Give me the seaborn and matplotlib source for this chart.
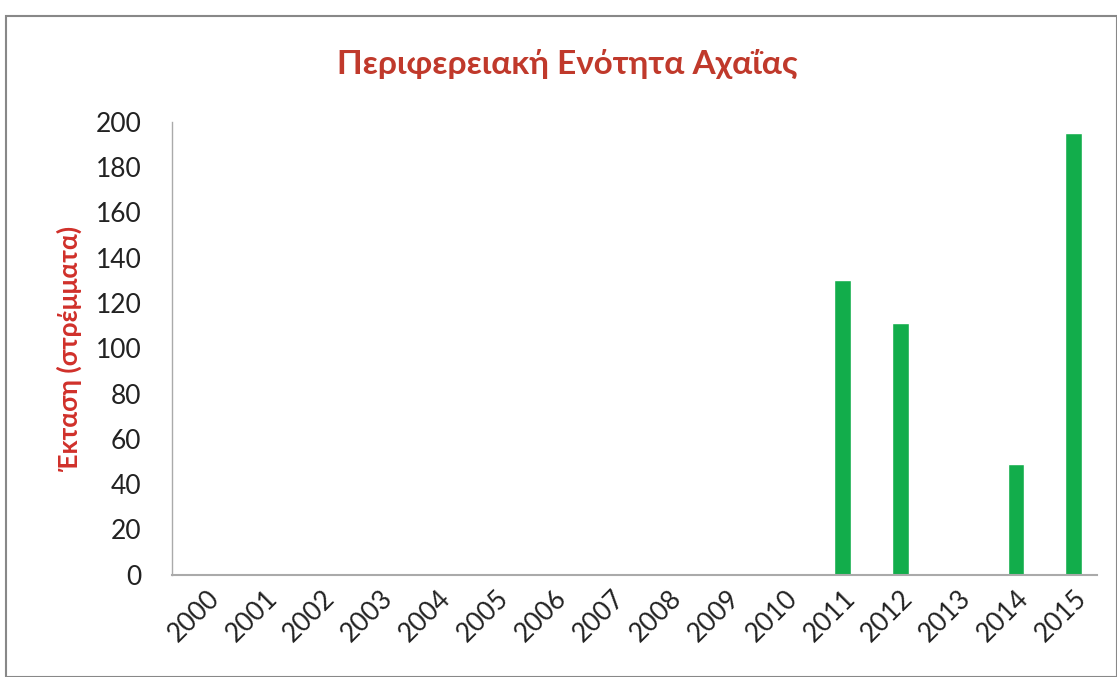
import matplotlib
matplotlib.use("Agg")
import matplotlib.pyplot as plt
import seaborn as sns
import pandas as pd
from matplotlib.patches import Rectangle

years = [str(y) for y in range(2000, 2016)]
values = [0, 0, 0, 0, 0, 0, 0, 0, 0, 0, 0, 130, 111, 0, 49, 195]
y_ticks = [0, 20, 40, 60, 80, 100, 120, 140, 160, 180, 200]

title = "Περιφερειακή Ενότητα Αχαΐας"
ylabel = "Έκταση (στρέμματα)"

sns.set_theme(style="white")
plt.rcParams['font.family'] = ['Lato', 'DejaVu Sans']

df = pd.DataFrame({"year": years, "value": values})

fig = plt.figure(figsize=(11.17, 6.77), dpi=100)
ax = fig.add_axes([0.154, 0.151, 0.828, 0.669])

sns.barplot(data=df, x="year", y="value", color="#12AD4B", width=0.29,
            saturation=1, ax=ax)

ax.set_ylim(0, 200)
ax.set_yticks(y_ticks)
ax.set_yticklabels([str(t) for t in y_ticks], fontsize=19, color="#222222")
ax.set_xticks(range(len(years)))
ax.set_xticklabels(years, rotation=45, ha="right", rotation_mode="anchor",
                   fontsize=19, color="#222222")
ax.tick_params(axis="x", length=0, pad=8)
ax.tick_params(axis="y", length=0, pad=22)
ax.set_xlabel("")
ax.set_ylabel(ylabel, fontsize=19, color="#D0302A", fontweight="bold", labelpad=10)
ax.set_xlim(-0.6, len(years) - 0.6)

for s in ["top", "right"]:
    ax.spines[s].set_visible(False)
ax.spines["left"].set_color("#AAAAAA")
ax.spines["left"].set_linewidth(1)
ax.spines["bottom"].set_color("#AAAAAA")
ax.spines["bottom"].set_linewidth(1.5)

fig.text(0.508, 0.905, title, ha="center", va="center", fontsize=24,
         color="#C0392B", fontweight="bold")

fig.patches.append(Rectangle((0.005, 0.0), 0.995, 0.977, transform=fig.transFigure,
                             fill=False, edgecolor="#888888", linewidth=1.5))

fig.savefig("out.png", dpi=100)
